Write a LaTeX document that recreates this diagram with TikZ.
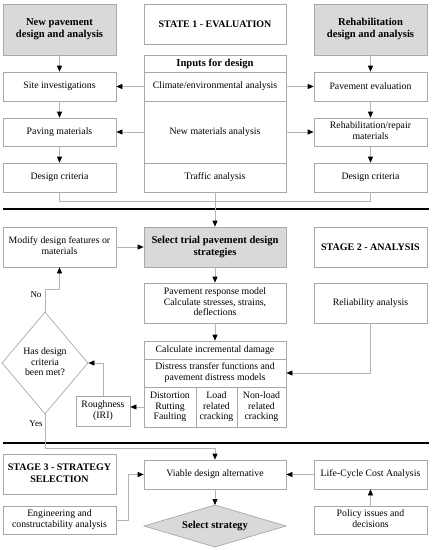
\documentclass[tikz,border=0pt]{standalone}
\usepackage{fontspec}
\setmainfont{Liberation Serif}
\usetikzlibrary{arrows.meta,shapes.geometric}
\definecolor{bordc}{HTML}{A8A8A8}
\definecolor{linec}{HTML}{B4B4B4}
\definecolor{fillg}{HTML}{D9D9D9}
\newcommand{\mlt}[1]{\begin{tabular}{@{}c@{}}#1\end{tabular}}
\begin{document}
\begin{tikzpicture}[x=1pt,y=-1pt,
  box/.style={draw=bordc,line width=0.7pt,rectangle,inner sep=1pt,font=\fontsize{9.8}{10.8}\selectfont},
  gbox/.style={box,fill=fillg},
  sw/.style={minimum width=113},
  cw/.style={minimum width=142},
  ttl/.style={font=\fontsize{10.6}{11.8}\selectfont\bfseries},
  ttlc/.style={font=\fontsize{10}{11.8}\selectfont\bfseries},
  conn/.style={draw=linec,line width=0.7pt,-{Triangle[length=6pt,width=5pt,color=black]}},
  plain/.style={draw=linec,line width=0.7pt},
  sep/.style={draw=black,line width=1.3pt},
  lbl/.style={font=\fontsize{9}{10}\selectfont,inner sep=0pt}]
\useasboundingbox (0,0) rectangle (433,550);
% Stage 1
\node[gbox,ttl,sw,minimum height=51] (newpav) at (59.5,29.5) {\mlt{New pavement\\design and analysis}};
\node[box,ttlc,cw,minimum height=40] (state1) at (215,24) {STATE 1 - EVALUATION};
\node[gbox,ttl,sw,minimum height=51] (rehab) at (370.5,29.5) {\mlt{Rehabilitation\\design and analysis}};
\node[box,sw,minimum height=29] (site) at (59.5,86.5) {Site investigations};
\node[box,sw,minimum height=28] (paving) at (59.5,132) {Paving materials};
\node[box,sw,minimum height=29] (dcL) at (59.5,177.5) {Design criteria};
\node[box,ttl,cw,minimum height=17] (inputs) at (215,63.5) {Inputs for design};
\node[box,cw,minimum height=29] (climate) at (215,86.5) {Climate/environmental analysis};
\node[box,cw,minimum height=62] (newmat) at (215,132) {New materials analysis};
\node[box,cw,minimum height=29] (traffic) at (215,177.5) {Traffic analysis};
\node[box,sw,minimum height=29] (paveval) at (370.5,86.5) {Pavement evaluation};
\node[box,sw,minimum height=28] (rehmat) at (370.5,132) {\mlt{Rehabilitation/repair\\materials}};
\node[box,sw,minimum height=29] (dcR) at (370.5,177.5) {Design criteria};
\draw[conn] (newpav.south) -- (site.north);
\draw[conn] (site.south) -- (paving.north);
\draw[conn] (paving.south) -- (dcL.north);
\draw[conn] (rehab.south) -- (paveval.north);
\draw[conn] (paveval.south) -- (rehmat.north);
\draw[conn] (rehmat.south) -- (dcR.north);
\draw[conn] (climate.west) -- (site.east);
\draw[conn] (newmat.west) -- (paving.east);
\draw[conn] (climate.east) -- (paveval.west);
\draw[conn] (newmat.east) -- (rehmat.west);
\coordinate (jn) at (215,201);
\draw[plain] (dcL.south) -- (dcL.south |- jn) -- (dcR.south |- jn) -- (dcR.south);
\coordinate (s1a) at (3,209);
\coordinate (s1b) at (429,209);
\draw[sep] (s1a) -- (s1b);
% Stage 2
\node[gbox,ttl,cw,minimum height=40] (select) at (215,247) {\mlt{Select trial pavement design\\strategies}};
\node[box,sw,minimum height=40] (modify) at (59.5,247) {\mlt{Modify design features or\\materials}};
\node[box,ttlc,sw,minimum height=40] (stage2) at (370.5,247) {STAGE 2 - ANALYSIS};
\node[box,cw,minimum height=40] (response) at (215,303) {\mlt{Pavement response model\\Calculate stresses, strains,\\deflections}};
\node[box,sw,minimum height=40] (reliab) at (370.5,303) {Reliability analysis};
\node[box,cw,minimum height=18] (damage) at (215,350) {Calculate incremental damage};
\node[box,cw,minimum height=28] (distress) at (215,373) {\mlt{Distress transfer functions and\\pavement distress models}};
\node[box,minimum width=52,minimum height=40] (distortion) at (170,407) {\mlt{Distortion\\Rutting\\Faulting}};
\node[box,minimum width=41,minimum height=40] (loadrel) at (216.5,407) {\mlt{Load\\related\\cracking}};
\node[box,minimum width=49,minimum height=40] (nonload) at (261.5,407) {\mlt{Non-load\\related\\cracking}};
\node[box,minimum width=54,minimum height=30] (rough) at (103,411) {\mlt{Roughness\\(IRI)}};
\node[box,diamond,inner sep=0pt,minimum width=86,minimum height=102] (hd) at (45,363) {\mlt{Has design\\criteria\\been met?}};
\draw[conn] (traffic.south) -- (select.north);
\draw[conn] (modify.east) -- (select.west);
\draw[conn] (select.south) -- (response.north);
\draw[conn] (response.south) -- (damage.north);
\draw[conn] (reliab.south) |- (distress.east);
\draw[conn] (distortion.west) -- (rough.east |- distortion.west);
\draw[conn] (rough.north) |- (hd.east);
\coordinate (noc) at (0,289);
\draw[conn] (hd.north) -- (hd.north |- noc) -- (modify.south |- noc) -- (modify.south);
\node[lbl] (no) at (36,295) {No};
\node[lbl] (yes) at (36,424) {Yes};
\coordinate (s2a) at (3,443);
\coordinate (s2b) at (429,443);
\draw[sep] (s2a) -- (s2b);
% Stage 3
\node[box,ttlc,sw,minimum height=40] (stage3) at (59.5,474) {\mlt{STAGE 3 - STRATEGY\\SELECTION}};
\node[box,cw,minimum height=29] (viable) at (215,474.5) {Viable design alternative};
\node[box,sw,minimum height=29] (lcca) at (370.5,474.5) {Life-Cycle Cost Analysis};
\node[box,sw,minimum height=28] (eng) at (59.5,520) {\mlt{Engineering and\\constructability analysis}};
\node[box,sw,minimum height=28] (policy) at (370.5,520) {\mlt{Policy issues and\\decisions}};
\coordinate (ssT) at (215,505);
\coordinate (ssR) at (286,526);
\coordinate (ssB) at (215,547);
\coordinate (ssL) at (144,526);
\draw[draw=bordc,line width=0.7pt,fill=fillg] (ssL) -- (ssT) -- (ssR) -- (ssB) -- cycle;
\node[ttl,inner sep=0pt] (selstrat) at (215,526) {Select strategy};
\coordinate (yesc) at (0,448);
\draw[conn] (hd.south) -- (hd.south |- yesc) -- (viable.north |- yesc) -- (viable.north);
\draw[conn] (lcca.west) -- (viable.east);
\draw[conn] (policy.north) -- (lcca.south);
\coordinate (engc) at (128,0);
\draw[conn] (eng.east) -- (eng.east -| engc) |- (viable.west);
\draw[conn] (viable.south) -- (ssT);
\end{tikzpicture}
\end{document}
